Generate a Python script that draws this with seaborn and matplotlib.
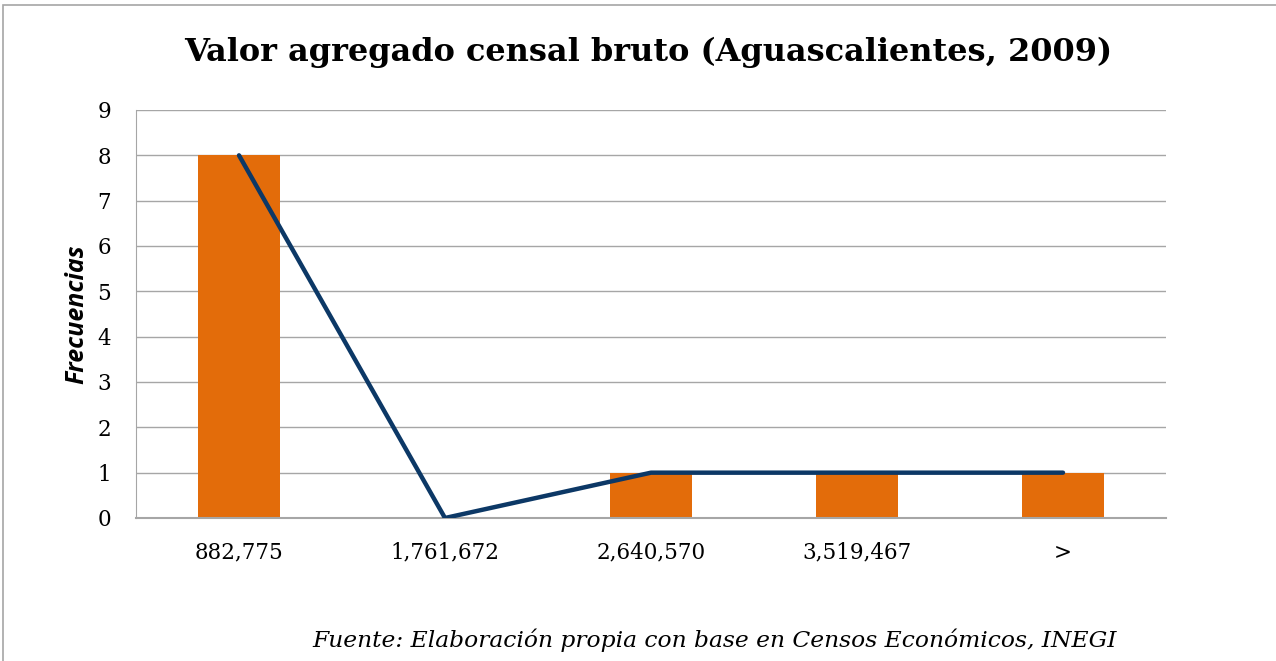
import numpy as np
import pandas as pd
import matplotlib
matplotlib.use('Agg')
import matplotlib.pyplot as plt
import seaborn as sns
from matplotlib.patches import Rectangle

categorias = ['882,775', '1,761,672', '2,640,570', '3,519,467', '>']
frecuencias = [8, 0, 1, 1, 1]

df = pd.DataFrame({'clase': categorias, 'frecuencia': frecuencias})

sns.set_style('white')
plt.rcParams['font.family'] = ['DejaVu Serif', 'DejaVu Sans']
plt.rcParams['text.color'] = 'black'
plt.rcParams['xtick.color'] = 'black'
plt.rcParams['ytick.color'] = 'black'
plt.rcParams['axes.labelcolor'] = 'black'

fig = plt.figure(figsize=(12.76, 6.61), dpi=100)
ax = fig.add_axes([136 / 1276, 1 - 518 / 661, (1166 - 136) / 1276, (518 - 110) / 661])

sns.barplot(data=df, x='clase', y='frecuencia', color='#e36c0a', width=0.4,
            saturation=1, linewidth=0, ax=ax, zorder=2)
sns.lineplot(x=np.arange(len(categorias)), y=frecuencias, color='#0c3866',
             linewidth=3.2, ax=ax, zorder=3, solid_capstyle='round')

ax.set_xlim(-0.5, len(categorias) - 0.5)
ax.set_ylim(0, 9)
ax.set_yticks(range(0, 10))
ax.yaxis.grid(True, color='#a6a6a6', linewidth=1, zorder=0)
ax.set_axisbelow(True)

for s in ['top', 'right']:
    ax.spines[s].set_visible(False)
ax.spines['left'].set_color('#a6a6a6')
ax.spines['bottom'].set_color('#a6a6a6')
ax.spines['bottom'].set_linewidth(1.5)

ax.set_xticks(np.arange(len(categorias)))
ax.set_xticklabels(categorias, fontsize=15.5)
ax.tick_params(axis='x', length=0, pad=17, colors='black')
ax.set_xticks(np.arange(-0.5, len(categorias)), minor=True)
ax.tick_params(axis='x', which='minor', length=8, color='#a6a6a6', direction='out', width=1)
ax.tick_params(axis='y', length=8, color='#a6a6a6', direction='out', labelsize=15.5,
               pad=10, labelcolor='black')

ax.set_xlabel('')
ax.set_ylabel('Frecuencias', fontsize=18, fontstyle='italic', fontweight='bold',
              family='Open Sans', labelpad=6)

fig.text(648 / 1276, 1 - 52 / 661, 'Valor agregado censal bruto (Aguascalientes, 2009)',
         ha='center', va='center', fontsize=23, fontweight='bold', color='black')
fig.text(1117 / 1276, 1 - 640 / 661,
         'Fuente: Elaboración propia con base en Censos Económicos, INEGI',
         ha='right', va='center', fontsize=16.8, fontstyle='italic', color='black')

fig.patches.append(Rectangle((3 / 1276, -0.05), 1.1, 1 - 5 / 661 + 0.05,
                             transform=fig.transFigure, fill=False,
                             edgecolor='#a6a6a6', linewidth=1.2))

fig.savefig('out.png', dpi=100, facecolor='white')
